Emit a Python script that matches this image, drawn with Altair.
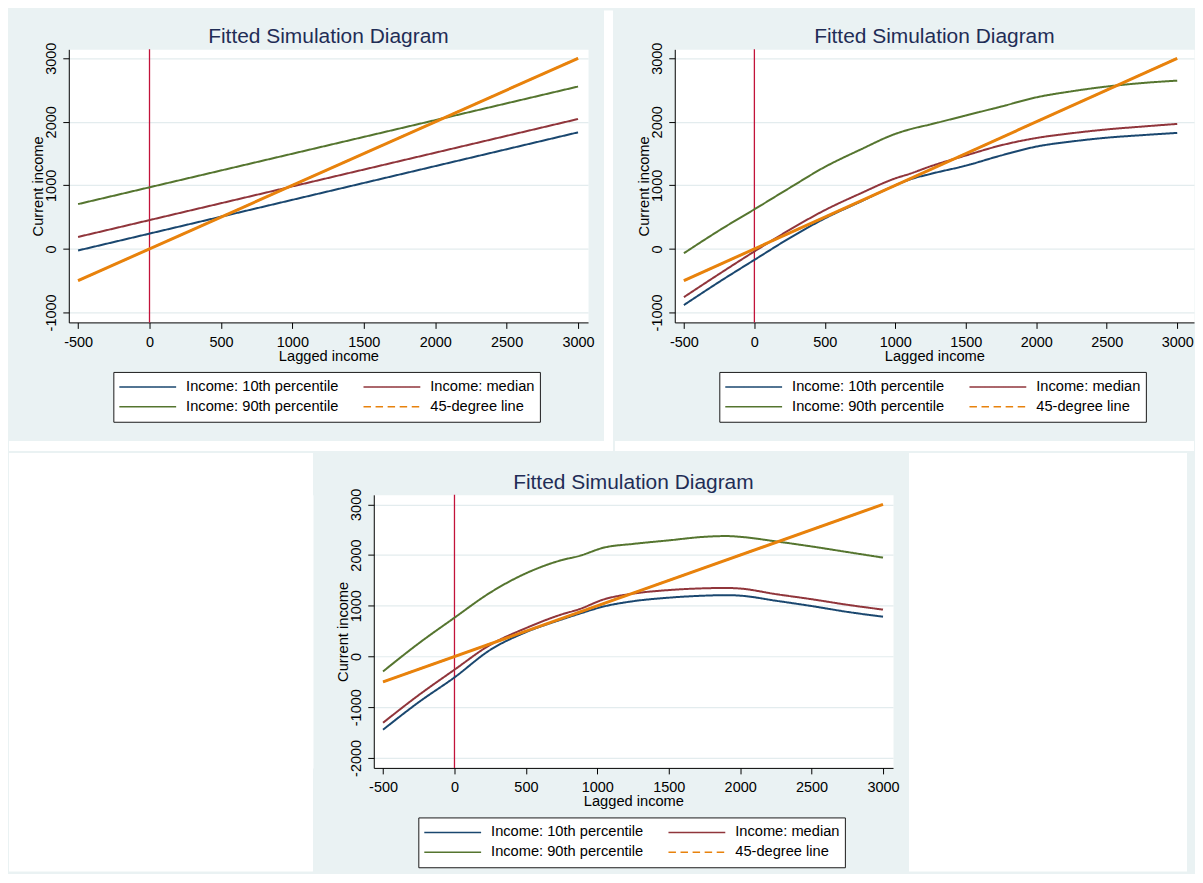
import altair as alt
import pandas as pd

# ---------------- data ----------------
SERIES = ["Income: 10th percentile", "Income: median", "Income: 90th percentile", "45-degree line"]
COLORS = ["#1A476F", "#90353B", "#55752F", "#E8820C"]
LEGEND_DASH = [[1, 0], [1, 0], [1, 0], [7.5, 4.6]]

TITLE = "Fitted Simulation Diagram"
X_TITLE = "Lagged income"
Y_TITLE = "Current income"

X_TICKS = [-500, 0, 500, 1000, 1500, 2000, 2500, 3000]
X_DOMAIN = [-565, 3070]
X_DOMAIN_RIGHT_PANEL = [-565, 3119]   # right panel touches the window edge

# panel 1 (top left): straight fitted lines
P1_X = [-500, 3000]
P1_P10 = [-25, 1834]
P1_MED = [188, 2044]
P1_P90 = [705, 2555]
P1_Y_TICKS = [-1000, 0, 1000, 2000, 3000]
P1_Y_DOMAIN = [-1157, 3141]

# panel 2 (top right)
P2_X = [-500, -250, 0, 250, 500, 750, 1000, 1100, 1250, 1500, 1750, 2000, 2250, 2500, 2750, 3000]
P2_P10 = [-884, -520, -173, 170, 480, 740, 1000, 1090, 1180, 1310, 1470, 1610, 1690, 1750, 1790, 1826]
P2_MED = [-759, -395, -40, 300, 610, 870, 1110, 1180, 1300, 1470, 1630, 1745, 1820, 1880, 1925, 1967]
P2_P90 = [-68, 290, 623, 960, 1290, 1560, 1810, 1880, 1960, 2100, 2240, 2385, 2480, 2555, 2610, 2648]
P2_Y_TICKS = [-1000, 0, 1000, 2000, 3000]
P2_Y_DOMAIN = [-1157, 3141]

# panel 3 (bottom)
P3_X = [-500, -250, 0, 250, 500, 750, 870, 1050, 1250, 1500, 1750, 1900, 2000, 2250, 2500, 2750, 3000]
P3_P10 = [-1443, -900, -412, 130, 480, 730, 840, 990, 1090, 1160, 1200, 1210, 1200, 1100, 995, 880, 785]
P3_MED = [-1306, -760, -260, 230, 560, 830, 930, 1130, 1240, 1310, 1345, 1352, 1340, 1230, 1130, 1020, 925]
P3_P90 = [-294, 260, 765, 1260, 1640, 1900, 1980, 2150, 2220, 2290, 2360, 2375, 2360, 2270, 2170, 2060, 1950]
P3_Y_TICKS = [-2000, -1000, 0, 1000, 2000, 3000]
P3_Y_DOMAIN = [-2196, 3188]

LINE45 = [-500, 3000]
VLINE = [0]

# ---------------- style ----------------
FONT = "Liberation Sans"
BG = "#EAF2F3"
GRID = "#E3ECEE"
VLINE_COLOR = "#C2133A"
TITLE_COLOR = "#1F2D56"
W, H = 521, 274
ONE = pd.DataFrame({"k": [0]})


def box(x1, x2, y1, y2, color):
    """plain decorative rectangle in pixel space (panel frame / gaps)"""
    return alt.Chart(ONE).mark_rect(color=color).encode(
        x=alt.value(x1), x2=alt.value(x2), y=alt.value(y1), y2=alt.value(y2))


def make_legend():
    return alt.Legend(
        title=None, orient="none", legendX=44.7, legendY=323.7,
        direction="horizontal", columns=2,
        symbolType="stroke", symbolSize=3249, symbolStrokeWidth=1.5, clipHeight=20,
        labelFont=FONT, labelFontSize=14.7, labelColor="black", labelOffset=9, labelLimit=400,
        columnPadding=24, rowPadding=0, padding=5,
        strokeColor="#1a1a1a", fillColor="white",
    )


def x_axis():
    return alt.Axis(
        values=X_TICKS, grid=False, domainColor="black", domainWidth=1,
        tickColor="black", tickSize=6, tickWidth=1,
        labelFont=FONT, labelFontSize=14.5, labelColor="black", labelPadding=7,
        labelFlush=False, labelOverlap=False, labelExpr="toString(datum.value)",
        title=X_TITLE, titleFont=FONT, titleFontSize=14.7, titleFontWeight="normal",
        titleColor="black", titleX=W / 2, titleY=38, titleBaseline="alphabetic",
    )


def y_axis(ticks):
    return alt.Axis(
        values=ticks, grid=True, gridColor=GRID, gridWidth=1.2,
        domainColor="black", domainWidth=1,
        tickColor="black", tickSize=6, tickWidth=1,
        labelFont=FONT, labelFontSize=14.5, labelColor="black", labelPadding=7,
        labelAngle=270, labelAlign="center", labelBaseline="alphabetic",
        labelFlush=False, labelOverlap=False, labelExpr="toString(datum.value)",
        title=Y_TITLE, titleFont=FONT, titleFontSize=14.7, titleFontWeight="normal",
        titleColor="black", titleAngle=270, titleX=-26.3, titleBaseline="alphabetic",
    )


def panel(xs, p10, med, p90, yticks, ydomain, xdomain, interp, frame_layers):
    rows = []
    for name, ys in zip(SERIES[:3], [p10, med, p90]):
        for x, y in zip(xs, ys):
            rows.append({"x": x, "y": y, "series": name})
    for v in LINE45:
        rows.append({"x": v, "y": v, "series": SERIES[3]})
    df = pd.DataFrame(rows)

    xsc = alt.Scale(domain=xdomain, nice=False, zero=False)
    ysc = alt.Scale(domain=ydomain, nice=False, zero=False)
    xenc = alt.X("x:Q", scale=xsc, axis=x_axis())
    yenc = alt.Y("y:Q", scale=ysc, axis=y_axis(yticks))

    vline = alt.Chart(pd.DataFrame({"x": VLINE})).mark_rule(
        color=VLINE_COLOR, strokeWidth=1.3).encode(x=xenc)
    lines = alt.Chart(df).mark_line(strokeWidth=2, interpolate=interp).encode(
        x=xenc, y=yenc,
        color=alt.Color("series:N", scale=alt.Scale(domain=SERIES, range=COLORS), legend=make_legend()),
        strokeDash=alt.StrokeDash("series:N", scale=alt.Scale(domain=SERIES, range=LEGEND_DASH),
                                  legend=make_legend()),
    )
    l45 = alt.Chart(pd.DataFrame({"x": LINE45, "y": LINE45})).mark_line(
        color=COLORS[3], strokeWidth=3).encode(x=xenc, y=yenc)
    title = alt.Chart(ONE).mark_text(
        text=TITLE, font=FONT, fontSize=21, color=TITLE_COLOR, baseline="alphabetic", align="center"
    ).encode(x=alt.value(W / 2), y=alt.value(-6.3))

    return alt.layer(*frame_layers, vline, lines, l45, title).properties(width=W, height=H)


# frame pieces: gray markers fix each panel's extent, white boxes are the gaps between panels
p1 = panel(P1_X, P1_P10, P1_MED, P1_P90, P1_Y_TICKS, P1_Y_DOMAIN, X_DOMAIN, "linear", [
    box(-60, -55, -39, -34, BG),
    box(537, 546, -39, 403, "white"),
    box(-60, 546, 393, 403, "white"),
])
p2 = panel(P2_X, P2_P10, P2_MED, P2_P90, P2_Y_TICKS, P2_Y_DOMAIN, X_DOMAIN_RIGHT_PANEL, "monotone", [
    box(-60, -55, -39, -34, BG),
    box(-60, 521, 393, 403, "white"),
])
p3 = panel(P3_X, P3_P10, P3_MED, P3_P90, P3_Y_TICKS, P3_Y_DOMAIN, X_DOMAIN, "monotone", [
    box(-59, -54, -42, -38, BG),
    box(537, 816, -42, 378, "white"),
])
spacer = alt.layer(box(-60, 245, -42, 378, "white")).properties(width=245, height=H)

res = dict(color="independent", strokeDash="independent", x="independent", y="independent")
top = alt.hconcat(p1, p2, spacing=0).resolve_scale(**res).resolve_legend(
    color="independent", strokeDash="independent")
bottom = alt.hconcat(spacer, p3, spacing=0).resolve_scale(**res).resolve_legend(
    color="independent", strokeDash="independent")

chart = alt.vconcat(top, bottom, spacing=0).resolve_scale(**res).resolve_legend(
    color="independent", strokeDash="independent"
).properties(
    padding=0, background=BG
).configure_view(stroke="transparent", fill="white")

chart.save("out.html", embed_options={"renderer": "svg", "actions": False})
